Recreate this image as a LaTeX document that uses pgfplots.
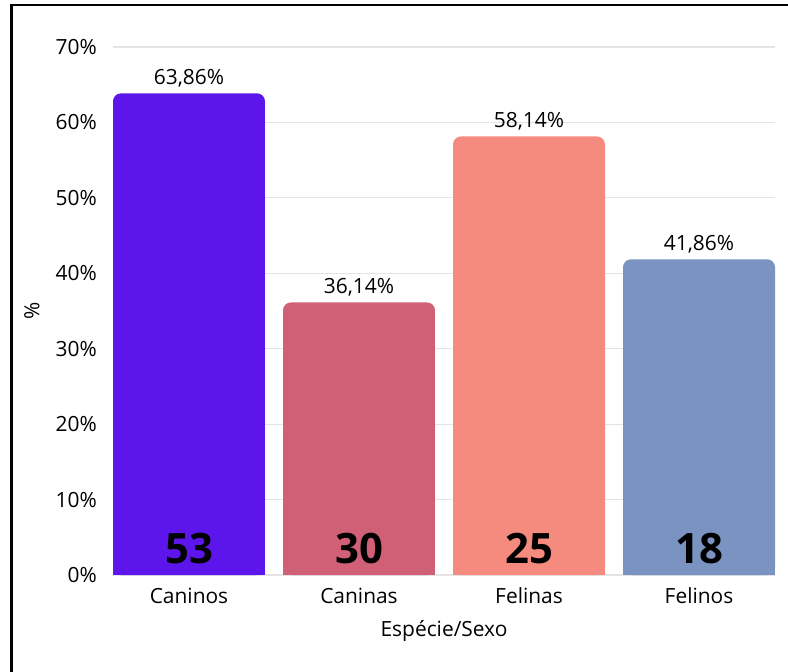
\documentclass[border=0pt]{standalone}
\usepackage{fontspec}
\setmainfont{Open Sans}
\usepackage{pgfplots}
\pgfplotsset{compat=1.18}
\definecolor{c1}{HTML}{5C16EB}
\definecolor{c2}{HTML}{D06076}
\definecolor{c3}{HTML}{F58A7E}
\definecolor{c4}{HTML}{7A93C0}
\definecolor{gridc}{HTML}{E4E4E4}
\newcommand{\rf}{\fontsize{21}{25}\selectfont}
\begin{document}
\begin{tikzpicture}
\useasboundingbox (0bp,0bp) rectangle (788bp,672bp);
\begin{axis}[
  at={(113bp,97bp)}, anchor=south west,
  width=662bp, height=528bp, scale only axis,
  xmin=-0.447, xmax=3.447, ymin=0, ymax=70,
  axis line style={draw=none},
  major tick length=0pt,
  ymajorgrids, grid style={gridc, line width=1.2bp},
  ytick={0,10,20,30,40,50,60,70},
  yticklabels={0\%,10\%,20\%,30\%,40\%,50\%,60\%,70\%},
  xtick={0,1,2,3},
  xticklabels={Caninos,Caninas,Felinas,Felinos},
  yticklabel style={font=\rf, anchor=east, inner sep=0pt, xshift=-16bp},
  xticklabel style={font=\rf, anchor=base, inner sep=0pt, yshift=-28bp},
  ylabel={\%}, xlabel={Espécie/Sexo},
  every axis y label/.style={at={(axis description cs:0,0.5)}, xshift=-81bp, rotate=90, anchor=center, font=\rf},
  every axis x label/.style={at={(axis description cs:0.5,0)}, yshift=-61bp, anchor=base, inner sep=0pt, font=\rf},
  clip=false,
]
% rounded bars
\addplot[ybar, bar width=0.894, bar shift=0pt, fill=c1, draw=none, rounded corners=8bp] coordinates {(0,63.86)};
\addplot[ybar, bar width=0.894, bar shift=0pt, fill=c2, draw=none, rounded corners=8bp] coordinates {(1,36.14)};
\addplot[ybar, bar width=0.894, bar shift=0pt, fill=c3, draw=none, rounded corners=8bp] coordinates {(2,58.14)};
\addplot[ybar, bar width=0.894, bar shift=0pt, fill=c4, draw=none, rounded corners=8bp] coordinates {(3,41.86)};
% square bottoms
\addplot[ybar, bar width=0.894, bar shift=0pt, fill=c1, draw=none] coordinates {(0,20)};
\addplot[ybar, bar width=0.894, bar shift=0pt, fill=c2, draw=none] coordinates {(1,20)};
\addplot[ybar, bar width=0.894, bar shift=0pt, fill=c3, draw=none] coordinates {(2,20)};
\addplot[ybar, bar width=0.894, bar shift=0pt, fill=c4, draw=none] coordinates {(3,20)};
% percentage labels
\addplot[draw=none, mark=none, nodes near coords, point meta=explicit symbolic,
  nodes near coords style={anchor=base, inner sep=0pt, yshift=9bp, font=\rf, text=black}]
  coordinates {(0,63.86)[{63,86\%}] (1,36.14)[{36,14\%}] (2,58.14)[{58,14\%}] (3,41.86)[{41,86\%}]};
% counts
\addplot[draw=none, mark=none, nodes near coords, point meta=explicit symbolic,
  nodes near coords style={anchor=base, inner sep=0pt, yshift=12bp, font=\fontsize{42}{46}\selectfont\bfseries, text=black}]
  coordinates {(0,0)[53] (1,0)[30] (2,0)[25] (3,0)[18]};
\end{axis}
\draw[line width=2.5bp, black] (11.3bp,-10bp) -- (11.3bp,667bp) -- (800bp,667bp);
\end{tikzpicture}
\end{document}
